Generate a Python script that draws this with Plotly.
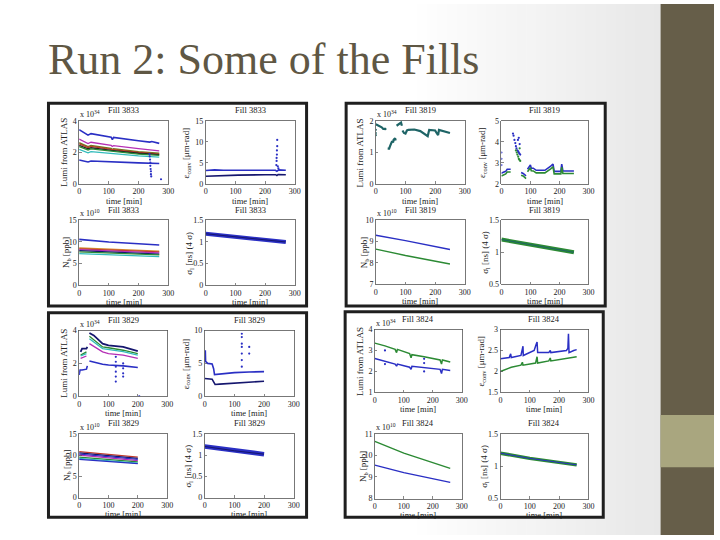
import plotly.graph_objects as go

W, H = 720, 540
TITLE = "Run 2: Some of the Fills"
FILL_IDS = ["3833", "3819", "3829", "3824"]
TIME_TICKS = [0, 100, 200, 300]

# ---------------- Fill 3833 ----------------
F3833_LUMI_BLUE_HI = [(0, 3.45), (10, 3.35), (25, 3.15), (30, 3.1), (40, 3.2), (60, 3.12), (108, 2.97), (112, 2.82), (116, 2.96), (200, 2.75), (238, 2.66), (245, 2.7), (270, 2.58)]
F3833_LUMI_MAGENTA = [(0, 2.85), (25, 2.62), (30, 2.57), (40, 2.65), (108, 2.45), (112, 2.38), (116, 2.44), (200, 2.25), (240, 2.16), (270, 2.1)]
F3833_LUMI_OLIVE = [(0, 2.62), (25, 2.42), (30, 2.37), (40, 2.45), (108, 2.25), (112, 2.18), (116, 2.24), (200, 2.05), (270, 1.95)]
F3833_LUMI_RED = [(0, 2.55), (25, 2.36), (30, 2.31), (40, 2.39), (108, 2.2), (200, 2.0), (270, 1.9)]
F3833_LUMI_BLACK = [(0, 2.45), (25, 2.28), (30, 2.23), (40, 2.3), (108, 2.13), (200, 1.95), (270, 1.86)]
F3833_LUMI_GREEN = [(0, 2.38), (25, 2.2), (30, 2.16), (40, 2.23), (108, 2.07), (200, 1.9), (270, 1.82)]
F3833_LUMI_CYAN = [(0, 2.2), (25, 2.02), (30, 1.98), (40, 2.05), (108, 1.92), (200, 1.78), (270, 1.7)]
F3833_LUMI_BLUE_LO = [(0, 1.52), (25, 1.43), (30, 1.4), (40, 1.46), (108, 1.39), (200, 1.34), (270, 1.3)]
F3833_LUMI_DOTS = [(237, 1.9), (238, 1.75), (239, 1.55), (240, 1.35), (240, 1.15), (241, 0.95), (242, 0.8), (242, 0.62), (243, 0.48), (276, 0.3)]

F3833_EMIT_BLUE = [(0, 3.2), (30, 3.35), (60, 3.25), (110, 3.3), (235, 3.25), (240, 3.0), (246, 3.35), (270, 3.25)]
F3833_EMIT_NAVY = [(0, 1.85), (30, 1.95), (110, 2.1), (200, 2.2), (236, 2.2), (240, 2.0), (244, 2.25), (270, 2.2)]
F3833_EMIT_DOTS = [(238, 4.5), (239, 5.5), (239, 6.2), (240, 7.0), (240, 8.0), (241, 9.0), (241, 10.5), (243, 4.2), (245, 3.7)]

F3833_NB_BLUE = [(0, 10.6), (100, 10.0), (200, 9.6), (270, 9.3)]
F3833_NB_ORANGE = [(0, 8.6), (270, 7.9)]
F3833_NB_RED = [(0, 8.4), (270, 7.7)]
F3833_NB_MAGENTA = [(0, 8.25), (270, 7.5)]
F3833_NB_NAVY = [(0, 8.0), (270, 7.2)]
F3833_NB_GREEN = [(0, 7.7), (270, 7.0)]
F3833_NB_CYAN = [(0, 7.3), (270, 6.6)]

F3833_SIGMA = [(0, 1.19), (100, 1.12), (200, 1.05), (270, 1.0)]

# ---------------- Fill 3819 ----------------
F3819_LUMI = [(0, 1.9), (10, 1.86), (20, 1.8), (25, 1.75), (32, 1.75), (34, 1.72), (None, None),
              (40, 1.12), (45, 1.12), (48, 1.2), (52, 1.3), (55, 1.36), (58, 1.32), (60, 1.4), (65, 1.45), (67, 1.38), (None, None),
              (70, 1.85), (75, 1.88), (80, 1.92), (85, 1.95), (88, 1.85), (None, None),
              (90, 1.7), (95, 1.62), (100, 1.6), (105, 1.7), (110, 1.72), (130, 1.73), (150, 1.68), (165, 1.58), (175, 1.52),
              (180, 1.72), (200, 1.7), (205, 1.62), (210, 1.55), (213, 1.72), (230, 1.68), (250, 1.62)]
F3819_LUMI_DOTS = [(0, 1.72), (0, 1.62), (0, 1.55)]

F3819_EMIT_BLUE = [(0, 2.5), (5, 2.55), (15, 2.6), (20, 2.7), (32, 2.7), (None, None),
                   (68, 2.55), (75, 2.5), (85, 2.38), (None, None),
                   (90, 2.7), (100, 2.9), (103, 2.75), (110, 2.75), (120, 2.65), (150, 2.65), (170, 2.85), (178, 2.95), (182, 2.6),
                   (205, 2.6), (208, 2.95), (212, 2.62), (250, 2.62)]
F3819_EMIT_GREEN = [(0, 2.38), (5, 2.42), (15, 2.48), (20, 2.57), (32, 2.57), (None, None),
                    (68, 2.42), (75, 2.38), (85, 2.25), (None, None),
                    (90, 2.58), (100, 2.77), (103, 2.63), (110, 2.62), (120, 2.53), (150, 2.53), (170, 2.72), (178, 2.82), (182, 2.48),
                    (205, 2.48), (208, 2.8), (212, 2.5), (250, 2.5)]
F3819_EMIT_BLUE_DOTS = [(0, 3.5), (0, 3.2), (0, 2.9), (40, 4.4), (42, 4.3), (45, 4.1), (48, 3.95), (50, 3.8), (52, 3.7), (55, 3.6), (58, 3.55), (60, 3.5), (62, 3.45), (65, 3.4), (57, 4.1), (60, 4.2), (63, 3.9)]
F3819_EMIT_GREEN_DOTS = [(50, 3.6), (53, 3.5), (55, 3.4), (58, 3.3), (60, 3.2), (62, 3.15), (65, 3.1), (63, 3.7)]

F3819_NB_BLUE = [(0, 9.3), (100, 9.05), (250, 8.63)]
F3819_NB_GREEN = [(0, 8.65), (100, 8.35), (250, 7.95)]

F3819_SIGMA = [(0, 1.2), (100, 1.12), (250, 1.0)]

# ---------------- Fill 3829 ----------------
F3829_LUMI_BLUE = [(0, 1.3), (3, 1.6), (10, 1.6), (25, 1.65), (28, 1.85), (None, None),
                   (35, 2.15), (45, 2.1), (80, 1.95), (100, 1.9), (150, 1.85), (200, 1.75)]
F3829_LUMI_NAVY = [(5, 2.7), (10, 2.9), (25, 2.9), (28, 3.0), (None, None),
                   (35, 3.85), (50, 3.7), (80, 3.2), (100, 3.1), (150, 3.0), (200, 2.75)]
F3829_LUMI_GREEN = [(5, 2.5), (25, 2.7), (None, None), (35, 3.65), (80, 3.0), (100, 2.95), (150, 2.8), (200, 2.6)]
F3829_LUMI_CYAN = [(5, 2.45), (25, 2.6), (None, None), (35, 3.5), (80, 2.9), (150, 2.72), (200, 2.5)]
F3829_LUMI_MAGENTA = [(5, 2.3), (25, 2.45), (None, None), (35, 3.2), (80, 2.7), (100, 2.6), (150, 2.5), (200, 2.3)]
F3829_LUMI_DOTS = [(125, 2.4), (125, 2.1), (125, 1.8), (125, 1.5), (125, 1.2), (125, 0.9), (150, 2.0), (150, 1.7), (150, 1.4), (150, 1.2), (205, 0.0)]

F3829_EMIT_UPPER = [(0, 5.2), (2, 7.0), (3, 5.3), (10, 5.0), (25, 4.9), (30, 4.2), (33, 3.3), (50, 3.4), (100, 3.6), (150, 3.7), (200, 3.75)]
F3829_EMIT_LOWER = [(0, 2.7), (25, 2.6), (30, 2.2), (35, 1.8), (50, 1.85), (100, 2.0), (150, 2.1), (200, 2.3)]
F3829_EMIT_DOTS = [(125, 9.5), (125, 9.0), (125, 8.0), (125, 7.5), (125, 6.5), (125, 5.5), (125, 4.5), (150, 7.5), (150, 6.5)]

F3829_NB_RED = [(0, 10.8), (200, 9.5)]
F3829_NB_NAVY = [(0, 10.5), (200, 9.2)]
F3829_NB_BLUE = [(0, 10.2), (200, 9.0)]
F3829_NB_MAGENTA = [(0, 10.0), (200, 8.7)]
F3829_NB_GREEN = [(0, 9.5), (200, 8.4)]
F3829_NB_CYAN = [(0, 9.2), (200, 8.1)]
F3829_NB_BLUE2 = [(0, 9.0), (200, 8.0)]

F3829_SIGMA = [(0, 1.2), (100, 1.1), (200, 1.02)]

# ---------------- Fill 3824 ----------------
F3824_LUMI_GREEN = [(0, 3.35), (35, 3.22), (70, 3.05), (75, 2.9), (78, 3.05), (120, 2.85), (125, 2.65), (128, 2.8), (170, 2.7), (225, 2.55), (230, 2.35), (233, 2.55), (260, 2.45)]
F3824_LUMI_BLUE = [(0, 2.62), (35, 2.5), (70, 2.35), (75, 2.25), (78, 2.35), (120, 2.2), (125, 2.1), (128, 2.25), (170, 2.2), (225, 2.1), (230, 1.9), (233, 2.1), (260, 2.05)]
F3824_LUMI_DOTS = [(35, 2.35), (35, 3.0), (170, 2.6), (170, 2.4), (170, 2.0)]

F3824_EMIT_BLUE = [(0, 2.3), (30, 2.33), (35, 2.42), (37, 2.33), (70, 2.38), (75, 2.55), (77, 2.6), (78, 2.38), (115, 2.5), (122, 2.65),
                   (125, 2.7), (127, 2.45), (165, 2.45), (170, 2.5), (172, 2.45), (225, 2.5), (230, 2.55), (232, 2.9), (234, 2.45), (250, 2.5), (260, 2.52)]
F3824_EMIT_GREEN = [(0, 2.0), (35, 2.08), (37, 2.1), (70, 2.15), (75, 2.22), (77, 2.15), (120, 2.2), (125, 2.35), (127, 2.2), (165, 2.25),
                    (170, 2.32), (172, 2.25), (225, 2.3), (230, 2.32), (260, 2.35)]

F3824_NB_GREEN = [(0, 10.65), (100, 10.1), (260, 9.4)]
F3824_NB_BLUE = [(0, 9.55), (100, 9.2), (260, 8.75)]

F3824_SIGMA = [(0, 1.2), (100, 1.12), (260, 1.02)]

# ---------------- axis tick values ----------------
YT_P1 = [[0, 2, 4], [0, 5, 10, 15], [0, 5, 10, 15], [0, 0.5, 1, 1.5]]
YR_P1 = [[0, 4], [0, 15], [0, 15], [0, 1.5]]
YT_P2 = [[0, 1, 2], [2, 3, 4, 5], [7, 8, 9, 10], [0.5, 1, 1.5]]
YR_P2 = [[0, 2], [2, 5], [7, 10], [0.5, 1.5]]
YT_P3 = [[0, 2, 4], [0, 5, 10], [0, 5, 10, 15], [0, 0.5, 1, 1.5]]
YR_P3 = [[0, 4], [0, 10], [0, 15], [0, 1.5]]
YT_P4 = [[1, 2, 3, 4], [1.5, 2, 2.5, 3], [8, 9, 10, 11], [0.5, 1, 1.5]]
YR_P4 = [[1, 4], [1.5, 3], [8, 11], [0.5, 1.5]]

LUMI_LABEL = "Lumi from ATLAS"
EMIT_LABEL = "ε<sub>conv</sub> [μm-rad]"
NB_LABEL = "N<sub>b</sub> [ppb]"
SIGMA_LABEL = "σ<sub>l</sub> [ns] (4 σ)"
X_LABEL = "time [min]"
EXP_LUMI = "x 10<sup>34</sup>"
EXP_NB = "x 10<sup>10</sup>"

# colours
BLUE = "#2a2fc4"
NAVY = "#15166e"
GREEN = "#2c8a34"
MAGENTA = "#b52fb5"
CYAN = "#32bcbc"
RED = "#c23a2a"
ORANGE = "#d48a2c"
OLIVE = "#6f7a1f"
BLACK = "#222222"
TEAL = "#1e6466"

FONT = "Liberation Serif"

fig = go.Figure()


def add(n, pts, color, width=1.3, mode="lines", size=2.2):
    xs = [p[0] for p in pts]
    ys = [p[1] for p in pts]
    suffix = "" if n == 1 else str(n)
    kw = dict(x=xs, y=ys, xaxis="x" + suffix, yaxis="y" + suffix, showlegend=False, hoverinfo="skip")
    if mode == "lines":
        fig.add_trace(go.Scatter(mode="lines", line=dict(color=color, width=width), connectgaps=False, **kw))
    else:
        fig.add_trace(go.Scatter(mode="markers", marker=dict(color=color, size=size), **kw))


# Panel 1 : Fill 3833
add(1, F3833_LUMI_BLUE_HI, BLUE, 1.6)
add(1, F3833_LUMI_MAGENTA, MAGENTA)
add(1, F3833_LUMI_OLIVE, OLIVE, 1.5)
add(1, F3833_LUMI_RED, RED)
add(1, F3833_LUMI_BLACK, BLACK)
add(1, F3833_LUMI_GREEN, GREEN)
add(1, F3833_LUMI_CYAN, CYAN)
add(1, F3833_LUMI_BLUE_LO, BLUE, 1.6)
add(1, F3833_LUMI_DOTS, BLUE, mode="markers")
add(2, F3833_EMIT_BLUE, BLUE, 1.6)
add(2, F3833_EMIT_NAVY, NAVY, 1.6)
add(2, F3833_EMIT_DOTS, BLUE, mode="markers")
add(3, F3833_NB_BLUE, BLUE, 1.6)
add(3, F3833_NB_ORANGE, ORANGE)
add(3, F3833_NB_RED, RED)
add(3, F3833_NB_MAGENTA, MAGENTA)
add(3, F3833_NB_NAVY, NAVY)
add(3, F3833_NB_GREEN, GREEN)
add(3, F3833_NB_CYAN, CYAN)
add(4, F3833_SIGMA, BLUE, 4.0)
add(4, F3833_SIGMA, NAVY, 1.0)

# Panel 2 : Fill 3819
add(5, F3819_LUMI, TEAL, 2.2)
add(5, F3819_LUMI_DOTS, TEAL, mode="markers")
add(6, F3819_EMIT_BLUE, BLUE, 1.6)
add(6, F3819_EMIT_GREEN, GREEN, 1.6)
add(6, F3819_EMIT_BLUE_DOTS, BLUE, mode="markers")
add(6, F3819_EMIT_GREEN_DOTS, GREEN, mode="markers")
add(7, F3819_NB_BLUE, BLUE, 1.4)
add(7, F3819_NB_GREEN, GREEN, 1.4)
add(8, F3819_SIGMA, GREEN, 4.0)
add(8, F3819_SIGMA, TEAL, 1.0)

# Panel 3 : Fill 3829
add(9, F3829_LUMI_NAVY, NAVY, 1.8)
add(9, F3829_LUMI_GREEN, GREEN)
add(9, F3829_LUMI_CYAN, CYAN)
add(9, F3829_LUMI_MAGENTA, MAGENTA)
add(9, F3829_LUMI_BLUE, BLUE, 1.6)
add(9, F3829_LUMI_DOTS, BLUE, mode="markers")
add(10, F3829_EMIT_UPPER, BLUE, 1.6)
add(10, F3829_EMIT_LOWER, NAVY, 1.6)
add(10, F3829_EMIT_DOTS, BLUE, mode="markers")
add(11, F3829_NB_RED, RED)
add(11, F3829_NB_NAVY, NAVY)
add(11, F3829_NB_BLUE, BLUE)
add(11, F3829_NB_MAGENTA, MAGENTA)
add(11, F3829_NB_GREEN, GREEN)
add(11, F3829_NB_CYAN, CYAN)
add(11, F3829_NB_BLUE2, BLUE)
add(12, F3829_SIGMA, BLUE, 4.5)
add(12, F3829_SIGMA, NAVY, 1.0)

# Panel 4 : Fill 3824
add(13, F3824_LUMI_GREEN, GREEN, 1.5)
add(13, F3824_LUMI_BLUE, BLUE, 1.5)
add(13, F3824_LUMI_DOTS, BLUE, mode="markers")
add(14, F3824_EMIT_BLUE, BLUE, 1.5)
add(14, F3824_EMIT_GREEN, GREEN, 1.5)
add(15, F3824_NB_GREEN, GREEN, 1.4)
add(15, F3824_NB_BLUE, BLUE, 1.4)
add(16, F3824_SIGMA, GREEN, 3.5)
add(16, F3824_SIGMA, BLUE, 1.0)

# ---------------- layout ----------------
# pixel boxes (x0, x1, ytop, ybot) for each subplot
BOXES = [
    (78, 168, 119, 183), (206, 296, 119, 183), (78, 168, 220, 286), (206, 296, 220, 286),
    (378, 468, 119, 183), (505, 593, 119, 183), (378, 468, 220, 285), (505, 593, 220, 285),
    (78, 167, 332, 399), (205, 295, 332, 399), (78, 167, 437, 502), (205, 295, 437, 502),
    (377, 465, 331, 395), (504, 593, 331, 395), (377, 465, 437, 503), (504, 593, 437, 503),
]
YTICKS = YT_P1 + YT_P2 + YT_P3 + YT_P4
YRANGES = YR_P1 + YR_P2 + YR_P3 + YR_P4
YLABELS = [LUMI_LABEL, EMIT_LABEL, NB_LABEL, SIGMA_LABEL] * 4
YLABEL_OFF = [15, 19, 12, 16] * 4
EXPONENTS = [EXP_LUMI, None, EXP_NB, None] * 4

common = dict(showline=True, mirror=True, linecolor="#555555", linewidth=0.8, ticks="inside", ticklen=2.5,
              tickwidth=0.7, tickcolor="#555555", showgrid=False, zeroline=False, fixedrange=True,
              tickfont=dict(family=FONT, size=8, color="#222222"))


def ann(text, px, py, size=9, xanchor="center", angle=0, color="#222222"):
    return dict(text=text, x=px / W, y=1 - py / H, xref="paper", yref="paper", xanchor=xanchor,
                yanchor="middle", textangle=angle, showarrow=False,
                font=dict(family=FONT, size=size, color=color))


layout_axes = {}
annotations = []
for i, (x0, x1, yt, yb) in enumerate(BOXES):
    n = i + 1
    suf = "" if n == 1 else str(n)
    layout_axes["xaxis" + suf] = dict(domain=[x0 / W, x1 / W], range=[0, 300], tickvals=TIME_TICKS,
                                      anchor="y" + suf, **common)
    layout_axes["yaxis" + suf] = dict(domain=[1 - yb / H, 1 - yt / H], range=YRANGES[i], tickvals=YTICKS[i],
                                      anchor="x" + suf, **common)
    cx = (x0 + x1) / 2
    annotations.append(ann("Fill " + FILL_IDS[i // 4], cx, yt - 11, 8.5))
    annotations.append(ann(X_LABEL, cx, yb + 17, 8.5))
    annotations.append(ann(YLABELS[i], x0 - YLABEL_OFF[i], (yt + yb) / 2, 9, angle=-90))
    if EXPONENTS[i]:
        annotations.append(ann(EXPONENTS[i], x0 - 1, yt - 7, 8, xanchor="left"))

annotations.append(ann(TITLE, 44, 56, 44, xanchor="left", color="#5f5744"))

shapes = []
# background gradient on the right of the slide
N_STRIPS = 24
for k in range(N_STRIPS):
    xa = 420 + k * (240 / N_STRIPS)
    xb = xa + 240 / N_STRIPS + 0.5
    g = int(255 - (k + 1) * (22 / N_STRIPS))
    shapes.append(dict(type="rect", xref="paper", yref="paper", x0=xa / W, x1=xb / W, y0=0, y1=1,
                       fillcolor=f"rgb({g},{g},{g})", line=dict(width=0), layer="below"))
shapes.append(dict(type="rect", xref="paper", yref="paper", x0=660 / W, x1=667 / W, y0=0, y1=1,
                   fillcolor="#e8e8e8", line=dict(width=0), layer="below"))
shapes.append(dict(type="rect", xref="paper", yref="paper", x0=666 / W, x1=1, y0=0, y1=1,
                   fillcolor="#665e49", line=dict(width=0), layer="below"))
shapes.append(dict(type="rect", xref="paper", yref="paper", x0=666 / W, x1=1, y0=1 - 471 / H, y1=1 - 418 / H,
                   fillcolor="#a9a67f", line=dict(width=0), layer="below"))
# panel frames
FRAMES = [(47, 308, 101, 307), (348, 610, 101, 307), (47, 308, 314, 522), (347, 608, 313, 522)]
for (fx0, fx1, fy0, fy1) in FRAMES:
    shapes.append(dict(type="rect", xref="paper", yref="paper", x0=fx0 / W, x1=fx1 / W, y0=1 - fy1 / H, y1=1 - fy0 / H,
                       fillcolor="white", line=dict(color="#1f1f1f", width=3), layer="below"))

fig.update_layout(width=W, height=H, margin=dict(l=0, r=0, t=0, b=0), paper_bgcolor="white",
                  plot_bgcolor="rgba(0,0,0,0)", shapes=shapes, annotations=annotations, **layout_axes)

fig.write_html("out.html", config={"displayModeBar": False, "staticPlot": True},
               post_script=("document.documentElement.style.margin='0';document.documentElement.style.overflow='hidden';"
                            "document.body.style.margin='0';document.body.style.padding='0';document.body.style.overflow='hidden';"))
